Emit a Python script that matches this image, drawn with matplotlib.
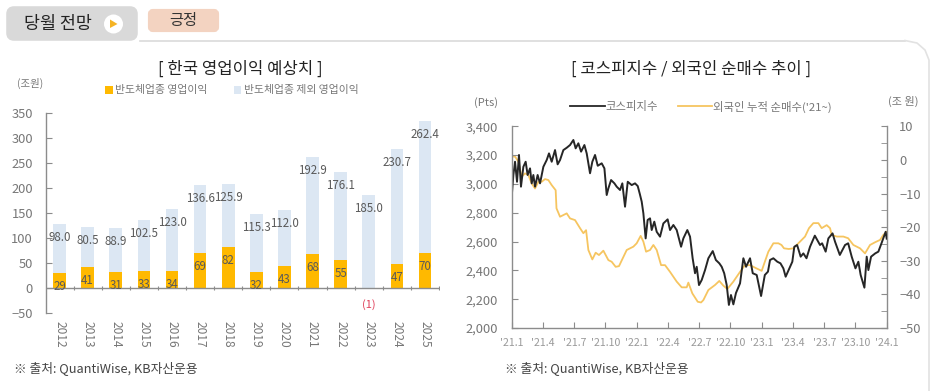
#!/usr/bin/env python3
# -*- coding: utf-8 -*-
"""Korean operating profit forecast and KOSPI vs foreign net buying panels."""

import matplotlib

matplotlib.use("Agg")

import matplotlib.pyplot as plt
from matplotlib.lines import Line2D
from matplotlib.patches import Circle, FancyBboxPatch, Patch, Polygon

plt.rcParams["font.family"] = ["Noto Sans CJK KR", "DejaVu Sans"]

W, H = 937, 391

GREY = "#777777"
LABEL = "#5a5a5a"
AXIS = "#8c8c8c"
AMBER = "#FFB900"
PALE = "#DCE7F3"
BLACK = "#262626"
SAND = "#F6C560"

years = ["2012", "2013", "2014", "2015", "2016", "2017", "2018",
         "2019", "2020", "2021", "2022", "2023", "2024", "2025"]
semi_profit = [29, 41, 31, 33, 34, 69, 82, 32, 43, 68, 55, -1, 47, 70]
other_profit = [98.0, 80.5, 88.9, 102.5, 123.0, 136.6, 125.9,
                115.3, 112.0, 192.9, 176.1, 185.0, 230.7, 262.4]

month_labels = ["'21.1", "'21.4", "'21.7", "'21.10", "'22.1", "'22.4", "'22.7",
                "'22.10", "'23.1", "'23.4", "'23.7", "'23.10", "'24.1"]

kospi_months = [
    0, .16, .32, .51, .70, .89, 1.12, 1.34, 1.53, 1.76, 1.92, 2.08, 2.24, 2.49,
    2.72, 3.04, 3.36, 3.58, 3.84, 4.16, 4.41, 4.64, 4.96, 5.28, 5.6, 5.92, 6.14,
    6.4, 6.66, 6.98, 7.2, 7.52, 7.74, 8.0, 8.26, 8.64, 8.9, 9.12, 9.28, 9.54,
    9.86, 10.08, 10.4, 10.62, 10.88, 11.14, 11.52, 11.84, 12.1, 12.3, 12.48,
    12.64, 12.86, 13.05, 13.28, 13.44, 13.69, 13.92, 14.24, 14.56, 14.97, 15.2,
    15.52, 15.84, 16.26, 16.48, 16.86, 17.12, 17.37, 17.6, 17.76, 17.98, 18.24,
    18.56, 18.88, 19.3, 19.6, 19.93, 20.16, 20.4, 20.64, 20.85, 21.05, 21.28,
    21.53, 21.92, 22.24, 22.5, 22.88, 23.14, 23.52, 23.94, 24.3, 24.6, 24.8,
    25.12, 25.5, 25.8, 26.08, 26.3, 26.6, 26.94, 27.13, 27.4, 27.74, 28.0, 28.3,
    28.64, 29.1, 29.6, 29.8, 30.14, 30.4, 30.8, 31.04, 31.5, 32.0, 32.3, 32.64,
    33.0, 33.28, 33.5, 33.86, 34.08, 34.24, 34.5, 34.9, 35.2, 35.5, 35.9, 36,
]
kospi_values = [
    2911, 3062, 3154, 3015, 3201, 2981, 3119, 3154, 3062, 3108, 3004, 3062, 2981,
    3062, 3004, 3119, 3166, 3212, 3154, 3235, 3136, 3166, 3235, 3251, 3270, 3305,
    3247, 3282, 3224, 3270, 3212, 3074, 3154, 3201, 3126, 3143, 3108, 2923, 2969,
    3027, 3004, 2981, 2958, 3004, 2842, 3015, 2992, 3004, 2985, 2930, 2877, 2796,
    2622, 2750, 2761, 2680, 2738, 2668, 2634, 2726, 2754, 2680, 2715, 2680, 2564,
    2622, 2680, 2634, 2484, 2380, 2425, 2298, 2333, 2402, 2484, 2534, 2472, 2449,
    2425, 2380, 2298, 2160, 2229, 2164, 2243, 2310, 2484, 2425, 2484, 2380, 2368,
    2222, 2368, 2391, 2472, 2484, 2460, 2449, 2414, 2356, 2405, 2460, 2564, 2576,
    2495, 2518, 2484, 2564, 2641, 2576, 2588, 2530, 2622, 2657, 2599, 2507, 2576,
    2588, 2495, 2414, 2460, 2368, 2280, 2495, 2402, 2495, 2518, 2530, 2588, 2668,
    2620,
]

foreign_months = [
    0, .32, .64, .96, 1.28, 1.6, 1.92, 2.24, 2.56, 2.88, 3.2, 3.52, 3.84, 4.22,
    4.3, 4.64, 5.28, 5.6, 6.08, 6.56, 6.88, 7.14, 7.36, 7.74, 8.06, 8.38, 8.8,
    9.28, 9.6, 9.98, 10.3, 11.04, 11.68, 12.0, 12.38, 12.64, 12.9, 13.28, 13.6,
    13.92, 14.34, 14.72, 15.2, 15.84, 16.32, 16.8, 16.96, 17.34, 17.86, 18.18,
    18.4, 18.88, 19.52, 19.93, 20.32, 20.7, 21.28, 21.92, 22.4, 22.88, 23.52,
    24.0, 24.3, 24.64, 25.12, 25.6, 25.9, 26.14, 26.6, 27.04, 27.52, 28.16, 28.54,
    28.96, 29.44, 29.76, 30.24, 30.56, 30.72, 31.2, 31.84, 32.3, 32.8, 33.44,
    33.92, 34.4, 34.88, 35.36, 35.68, 36,
]
foreign_values = [
    1.0, 1.0, -0.5, -5.0, -4.0, -4.5, -7.0, -8.5, -6.5, -6.5, -5.7, -6.0, -7.5,
    -9.0, -14.4, -16.9, -15.9, -17.4, -17.9, -20.3, -21.8, -20.9, -26.8, -29.6,
    -27.6, -28.3, -27.0, -29.8, -30.3, -31.8, -31.6, -26.8, -25.8, -24.8, -22.6,
    -24.3, -27.3, -26.8, -25.3, -26.8, -31.3, -31.3, -33.3, -36.2, -37.9, -37.9,
    -36.5, -39.7, -42.2, -42.4, -41.7, -38.7, -37.2, -36.0, -37.4, -38.4, -36.2,
    -33.3, -31.3, -31.3, -32.3, -33.0, -30.3, -27.3, -24.8, -24.8, -25.3, -26.3,
    -26.5, -26.3, -24.8, -22.8, -20.3, -18.8, -18.8, -20.3, -19.4, -20.3, -22.3,
    -22.8, -22.8, -23.3, -25.3, -26.3, -27.8, -25.3, -24.5, -23.8, -22.3, -21.4,
]


def axes_at(fig, left, top, right, bottom):
    """Add an axes placed by its pixel edges in the reference image."""
    return fig.add_axes([left / W, 1 - bottom / H, (right - left) / W, (bottom - top) / H])


def style_spines(ax, visible):
    for side, spine in ax.spines.items():
        spine.set_visible(side in visible)
        spine.set_color(AXIS)
        spine.set_linewidth(1.0)


fig = plt.figure(figsize=(W / 100, H / 100), dpi=100)

# page furniture, drawn in image pixels
bg = fig.add_axes([0, 0, 1, 1])
bg.set_xlim(0, W)
bg.set_ylim(H, 0)
bg.axis("off")
bg.plot([140, 905], [40.5, 40.5], color="#DADADA", lw=1.2)
bg.plot([905, 917, 925, 929, 929], [40.5, 43, 50, 60, 391], color="#E2E2E2", lw=1.2)
bg.add_patch(FancyBboxPatch((9, 9), 126, 29, boxstyle="round,pad=0,rounding_size=5",
                            fc="#D9D9D9", ec="#D9D9D9", lw=4))
bg.add_patch(FancyBboxPatch((150, 11), 67, 19, boxstyle="round,pad=0,rounding_size=3",
                            fc="#F3D3C1", ec="#F3D3C1", lw=3))
bg.add_patch(Circle((113.5, 24), 9.5, fc="white", ec="none"))
bg.add_patch(Polygon([[110, 19.5], [110, 28], [117.5, 24]], closed=True, fc="#F5B324", ec="none"))
bg.text(58, 24, "당월 전망", fontsize=12.5, color="#222222", ha="center", va="center", weight="medium")
bg.text(183.5, 20.5, "긍정", fontsize=11, color="#333333", ha="center", va="center", weight="medium")
bg.text(240, 69, "[ 한국 영업이익 예상치 ]", fontsize=12, color="#222222",
        ha="center", va="center", weight="medium")
bg.text(691, 69, "[ 코스피지수 / 외국인 순매수 추이 ]", fontsize=12, color="#222222",
        ha="center", va="center", weight="medium")
bg.text(30, 83, "(조원)", fontsize=7.5, color=GREY, ha="center", va="center")
bg.text(486, 103, "(Pts)", fontsize=8, color=GREY, ha="center", va="center")
bg.text(903, 101, "(조 원)", fontsize=8, color=GREY, ha="center", va="center")
bg.text(14, 368, "※ 출처: QuantiWise, KB자산운용", fontsize=9.2, color="#444444", va="center")
bg.text(505, 368, "※ 출처: QuantiWise, KB자산운용", fontsize=9.2, color="#444444", va="center")

# left panel: stacked operating profit bars
ax = axes_at(fig, 45.5, 112.5, 439, 312.7)
ax.patch.set_visible(False)
positions = range(len(years))
tops = [max(s, 0) for s in semi_profit]
ax.bar(positions, semi_profit, width=0.45, color=AMBER)
ax.bar(positions, other_profit, width=0.45, bottom=tops, color=PALE)
ax.set_xlim(-0.5, len(years) - 0.5)
ax.set_ylim(-50, 350)
ax.set_yticks(range(-50, 351, 50))
ax.set_xticks(list(positions))
ax.set_xticklabels(years, rotation=270, fontsize=8.6, color=GREY)
ax.tick_params(axis="x", length=0, pad=6)
ax.tick_params(axis="y", direction="in", length=4, color=AXIS, labelsize=9.3,
               labelcolor=GREY, pad=9)
style_spines(ax, ["left"])
ax.axhline(0, color=AXIS, lw=1.0, zorder=3)
ax.plot([p + 0.5 for p in positions], [0] * len(years), ls="none", marker="|", ms=3,
        color=AXIS, mew=0.8, zorder=3)

for i, (semi, other) in enumerate(zip(semi_profit, other_profit)):
    base = max(semi, 0)
    ax.annotate(f"{other:.1f}", (i, base + other), xytext=(0, -9.7), textcoords="offset points",
                ha="center", va="center", fontsize=8.3, color=LABEL, zorder=4)
    if semi < 0:
        ax.annotate(f"({-semi})", (i, semi), xytext=(0, -12), textcoords="offset points",
                    ha="center", va="center", fontsize=8, color="#E0405A", zorder=4)
    else:
        ax.annotate(f"{semi}", (i, semi), xytext=(0, -9.7), textcoords="offset points",
                    ha="center", va="center", fontsize=8.3, color=LABEL, zorder=4)

bar_legend = bg.legend(
    handles=[Patch(fc=AMBER, label="반도체업종 영업이익"), Patch(fc=PALE, label="반도체업종 제외 영업이익")],
    ncol=2, frameon=False, fontsize=7.8, labelcolor=GREY, loc="center",
    bbox_to_anchor=(232 / W, 1 - 90.5 / H), handlelength=0.7, handleheight=0.7,
    handletextpad=0.25, columnspacing=2.4)
bg.add_artist(bar_legend)

# right panel: KOSPI against cumulative foreign net buying
ax_l = axes_at(fig, 511.7, 126.3, 886.7, 328)
ax_r = ax_l.twinx()
ax_l.set_zorder(ax_r.get_zorder() + 1)
ax_l.patch.set_visible(False)
ax_r.plot(foreign_months, foreign_values, color=SAND, lw=1.3)
ax_l.plot(kospi_months, kospi_values, color=BLACK, lw=1.4)
ax_l.set_xlim(0, 36)
ax_l.set_ylim(2000, 3400)
ax_r.set_ylim(-50, 10)
ax_l.set_yticks(range(2000, 3401, 200))
ax_l.set_yticklabels([f"{v:,}" for v in range(2000, 3401, 200)])
ax_l.set_xticks(range(0, 37, 3))
ax_l.set_xticklabels(month_labels, fontsize=7.6, color="#999999")
ax_l.tick_params(axis="x", direction="in", length=4, color=AXIS, pad=7)
ax_l.tick_params(axis="y", direction="in", length=4, color=AXIS, labelsize=9.3,
                 labelcolor=GREY, pad=10)
ax_r.set_yticks(range(-50, 11, 10))
ax_r.set_yticks(range(-45, 10, 10), minor=True)
ax_r.tick_params(axis="y", which="both", direction="in", length=4, color=AXIS,
                 labelsize=9.3, labelcolor=GREY, pad=9)
style_spines(ax_l, ["left", "bottom"])
style_spines(ax_r, ["right"])

bg.legend(handles=[Line2D([], [], color=BLACK, lw=1.3, label="코스피지수"),
                   Line2D([], [], color=SAND, lw=1.3, label="외국인 누적 순매수('21~)")],
          ncol=2, frameon=False, fontsize=8.2, labelcolor=GREY, loc="center",
          bbox_to_anchor=(701 / W, 1 - 106.5 / H), handlelength=3.0,
          handletextpad=0.1, columnspacing=1.7)

fig.savefig("out.png", dpi=100)
